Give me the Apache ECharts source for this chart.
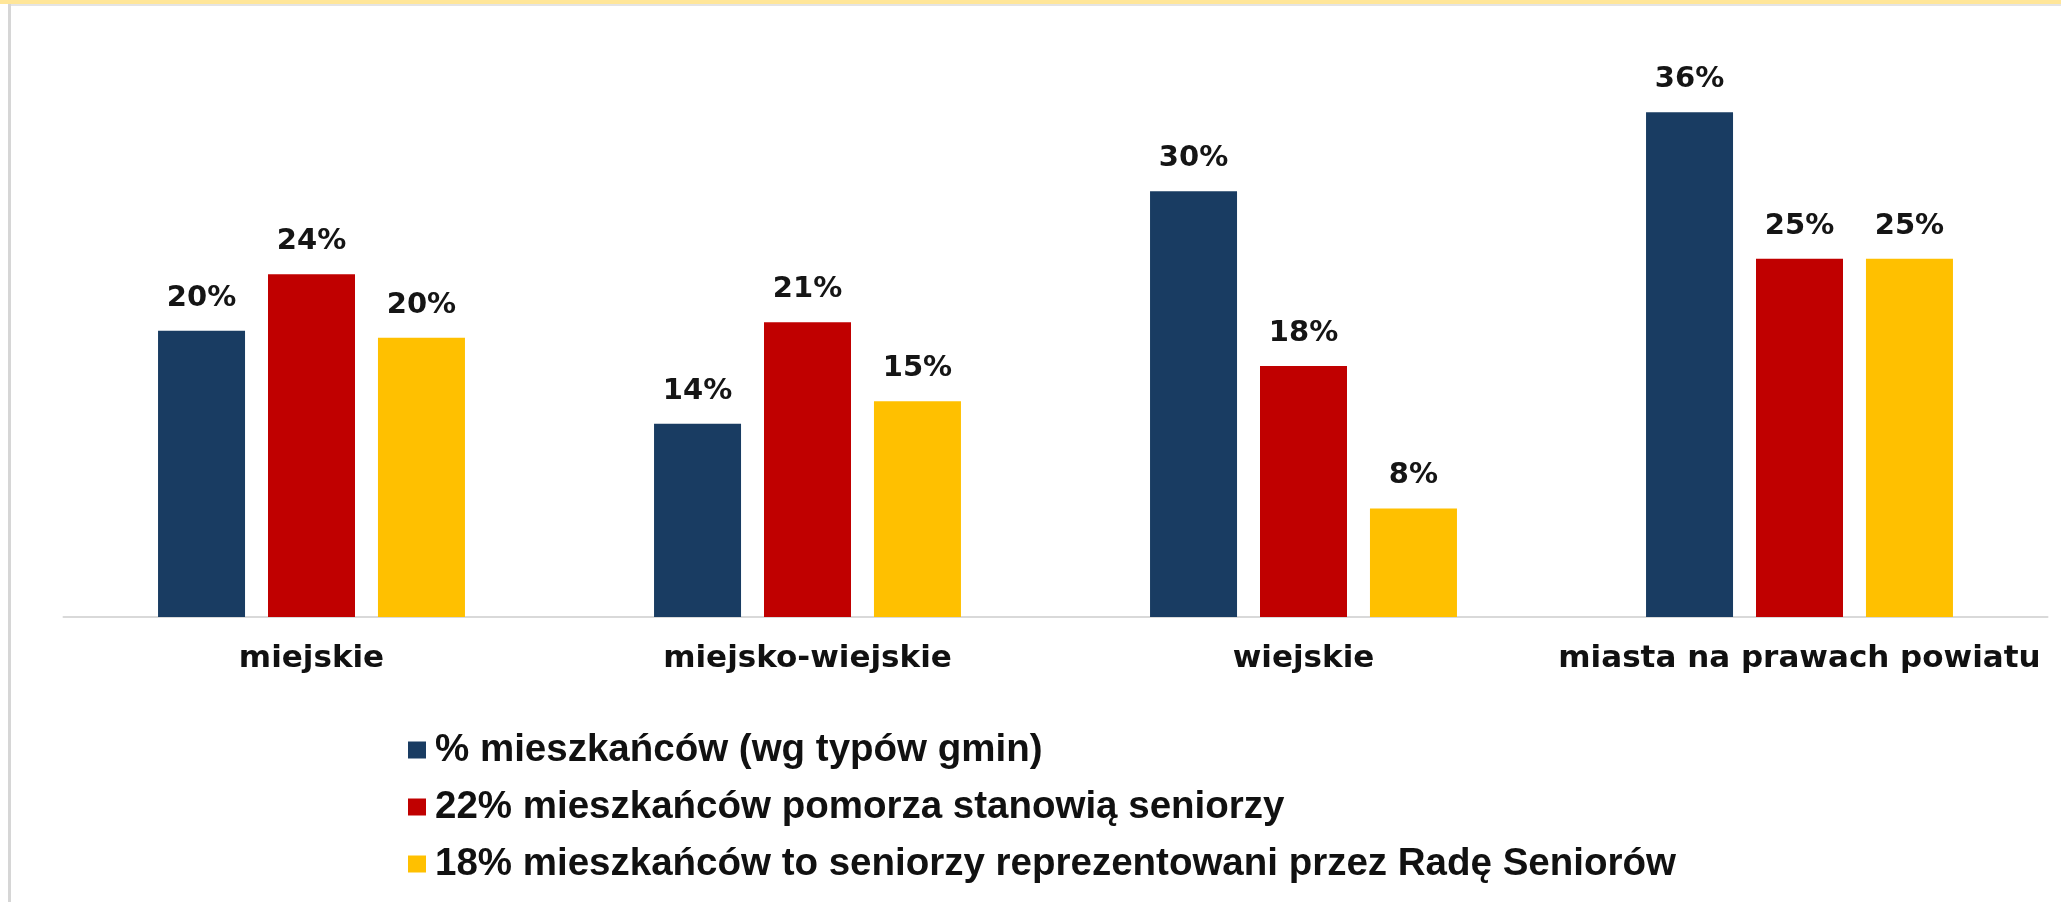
<!DOCTYPE html>
<html>
<head>
<meta charset="utf-8">
<script src="https://cdn.jsdelivr.net/npm/echarts@6/dist/echarts.min.js"></script>
<style>
html,body{margin:0;padding:0;background:#fff;}
#chart{width:2061px;height:902px;}
</style>
</head>
<body>
<div id="chart"></div>
<script>
const categories = ['miejskie', 'miejsko-wiejskie', 'wiejskie', 'miasta na prawach powiatu'];
const seriesNames = [
  '% mieszkańców (wg typów gmin)',
  '22% mieszkańców pomorza stanowią seniorzy',
  '18% mieszkańców to seniorzy reprezentowani przez Radę Seniorów'
];
const residentsShare = [20.3, 13.7, 30.2, 35.8];
const residentsLabels = ['20%', '14%', '30%', '36%'];
const seniorsShare = [24.3, 20.9, 17.8, 25.4];
const seniorsLabels = ['24%', '21%', '18%', '25%'];
const councilShare = [19.8, 15.3, 7.7, 25.4];
const councilLabels = ['20%', '15%', '8%', '25%'];
const colors = ['#193C62', '#C00000', '#FFC000'];

const chart = echarts.init(document.getElementById('chart'), null, {renderer: 'canvas'});

function barSeries(name, data, labels, color) {
  return {
    name: name,
    type: 'bar',
    data: data,
    barWidth: 87,
    barGap: '26.4%',
    itemStyle: {color: color},
    label: {
      show: true,
      position: 'top',
      distance: 18,
      formatter: function (p) { return labels[p.dataIndex]; },
      color: '#151515',
      fontFamily: 'DejaVu Sans',
      fontWeight: 'bold',
      fontSize: 29
    },
    emphasis: {disabled: true}
  };
}

chart.setOption({
  animation: false,
  backgroundColor: '#ffffff',
  grid: {left: 63.5, right: 13.5, top: 53, bottom: 285, containLabel: false},
  xAxis: {
    type: 'category',
    data: categories,
    axisLine: {show: true, lineStyle: {color: '#D9D9D9', width: 2}},
    axisTick: {show: false},
    axisLabel: {
      margin: 26,
      color: '#111111',
      fontFamily: 'DejaVu Sans',
      fontWeight: 'bold',
      fontSize: 31,
      interval: 0
    }
  },
  yAxis: {
    type: 'value',
    min: 0,
    max: 40,
    show: false,
    splitLine: {show: false}
  },
  legend: {
    orient: 'vertical',
    left: 403,
    top: 725,
    icon: 'rect',
    itemWidth: 18,
    itemHeight: 17,
    itemGap: 17,
    selectedMode: false,
    data: seriesNames,
    textStyle: {
      color: '#111111',
      fontFamily: 'Liberation Sans',
      fontWeight: 'bold',
      fontSize: 38.5,
      lineHeight: 40,
      padding: [0, 0, 0, 4]
    }
  },
  graphic: [
    {type: 'rect', left: 0, top: 0, shape: {width: 2061, height: 4}, style: {fill: '#FFE699'}, silent: true},
    {type: 'rect', left: 8, top: 4, shape: {width: 2053, height: 2}, style: {fill: '#E4E4E4'}, silent: true},
    {type: 'rect', left: 8, top: 4, shape: {width: 3, height: 898}, style: {fill: '#D6D6D6'}, silent: true}
  ],
  series: [
    barSeries(seriesNames[0], residentsShare, residentsLabels, colors[0]),
    barSeries(seriesNames[1], seniorsShare, seniorsLabels, colors[1]),
    barSeries(seriesNames[2], councilShare, councilLabels, colors[2])
  ]
});
</script>
</body>
</html>
